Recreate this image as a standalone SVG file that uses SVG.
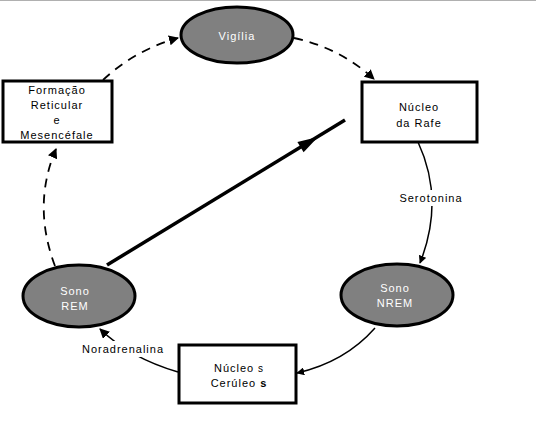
<svg xmlns="http://www.w3.org/2000/svg" width="536" height="436" viewBox="0 0 536 436">
<defs>
<style>
.ell{fill:#808080;stroke:#000;stroke-width:3}
.box{fill:#fff;stroke:#000;stroke-width:3}
.t{font-family:"Liberation Sans",Arial,sans-serif;font-size:11px;letter-spacing:1px;text-anchor:middle}
.w{fill:#fff}
.k{fill:#000}
.c{fill:none;stroke:#000;stroke-width:1.5}
.d{stroke-dasharray:9,7;stroke-width:1.8}
</style>
<marker id="ah" viewBox="0 0 10 10" refX="9" refY="5" markerWidth="8" markerHeight="8" markerUnits="userSpaceOnUse" orient="auto">
<path d="M0,0 L10,5 L0,10 z" fill="#000"/>
</marker>
<marker id="ah2" viewBox="0 0 10 10" refX="9" refY="5" markerWidth="10" markerHeight="10" markerUnits="userSpaceOnUse" orient="auto">
<path d="M0,0 L10,5 L0,10 z" fill="#000"/>
</marker>
</defs>
<rect x="0" y="0" width="536" height="436" fill="#fff"/>
<line x1="0" y1="0.5" x2="536" y2="0.5" stroke="#b0b0b0" stroke-width="1"/>

<g id="connectors">
<path class="c d" d="M103,80 Q135,50 178,38" marker-end="url(#ah2)"/>
<path class="c d" d="M294,38 Q340,48 374,79" marker-end="url(#ah2)"/>
<path class="c" d="M418,142 Q445,200 420,263" marker-end="url(#ah)"/>
<path class="c" d="M375,328 Q345,362 297,373" marker-end="url(#ah)"/>
<path class="c" d="M178,372 Q130,358 100,329" marker-end="url(#ah2)"/>
<path class="c d" d="M55,266 Q32,205 56,149" marker-end="url(#ah2)"/>
<line x1="107" y1="265" x2="345" y2="120" stroke="#000" stroke-width="3.5"/>
<polygon points="318,137 303.6,152.2 297.4,142" fill="#000"/>
<g id="lbl-serotonina">
<rect x="396" y="190" width="72" height="16" fill="#fff"/>
<text class="t k" x="431" y="202">Serotonina</text>
</g>
<g id="lbl-noradrenalina">
<rect x="78" y="341" width="90" height="16" fill="#fff"/>
<text class="t k" x="123" y="353">Noradrenalina</text>
</g>
</g>

<g id="vigilia">
<ellipse class="ell" cx="237" cy="35" rx="56" ry="28"/>
<text class="t w" x="237" y="40">Vigília</text>
</g>

<g id="formacao">
<rect class="box" x="3" y="81" width="109" height="61"/>
<text class="t k" x="57" y="94">Formação</text>
<text class="t k" x="57" y="109">Reticular</text>
<text class="t k" x="57" y="124">e</text>
<text class="t k" x="57" y="139">Mesencéfale</text>
</g>

<g id="rafe">
<rect class="box" x="362" y="82" width="115" height="60"/>
<text class="t k" x="419" y="111">Núcleo</text>
<text class="t k" x="419" y="127">da Rafe</text>
</g>

<g id="nrem">
<ellipse class="ell" cx="397" cy="295" rx="56" ry="31"/>
<text class="t w" x="395" y="292">Sono</text>
<text class="t w" x="395" y="307">NREM</text>
</g>

<g id="rem">
<ellipse class="ell" cx="79" cy="296" rx="56" ry="31"/>
<text class="t w" x="75" y="295">Sono</text>
<text class="t w" x="75" y="310">REM</text>
</g>

<g id="cerulos">
<rect class="box" x="179" y="345" width="117" height="58"/>
<text class="t k" x="239" y="372">Núcleo<tspan font-size="10"> s</tspan></text>
<text class="t k" x="239" y="387">Cerúleo<tspan font-weight="bold"> s</tspan></text>
</g>
</svg>
